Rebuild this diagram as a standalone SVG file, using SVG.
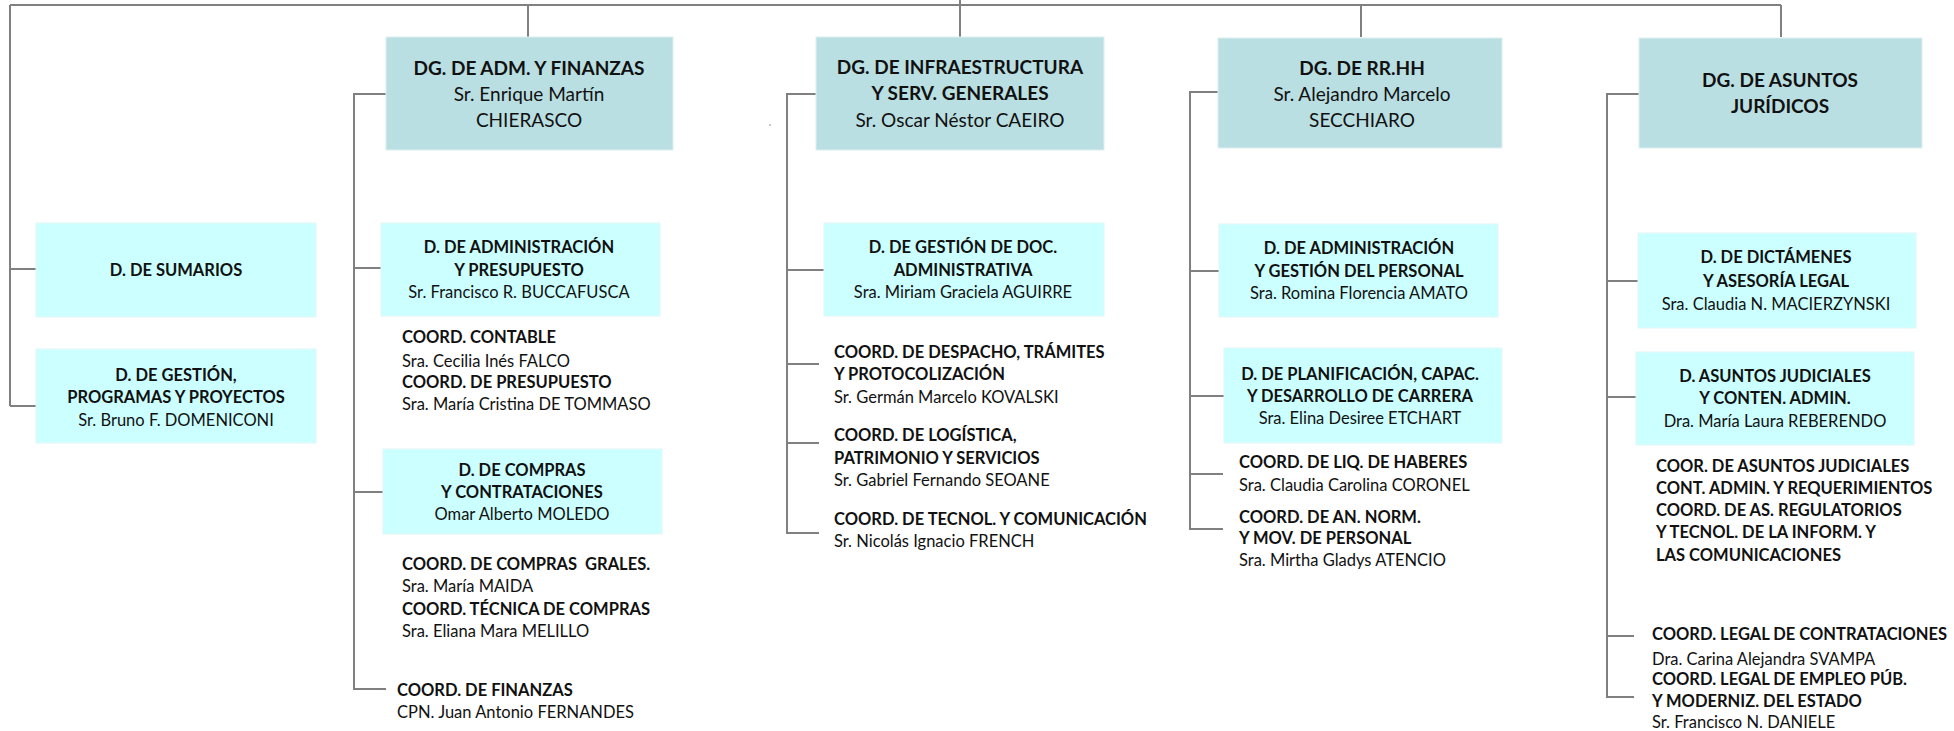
<svg xmlns="http://www.w3.org/2000/svg" width="1954" height="731" viewBox="0 0 1954 731">
<style>
.dg{fill:#BADFE2;stroke:#DDEFF0;stroke-width:1}
.d{fill:#CCFFFF;stroke:#E2F6F6;stroke-width:1}
.ln{stroke:#808080;stroke-width:2;fill:none}
text{font-family:Lato,"Liberation Sans",sans-serif;fill:#111}
.t{font-size:19px}
.s{font-size:16.5px}
.b{font-weight:bold}
.c{text-anchor:middle}
</style>
<rect width="1954" height="731" fill="#fff"/>
<g id="connectors">
<path class="ln" d="M10,5 H1781 M960,0 V37 M528,5 V37 M1361,5 V37 M1781,5 V37 M10,5 V406 M10,269 H38 M10,406 H38"/>
<path class="ln" d="M386,94 H354 V689 H386 M354,268 H381 M354,492 H383"/>
<path class="ln" d="M816,94 H787 V533 H819 M787,270 H824 M787,364 H819 M787,443 H819"/>
<path class="ln" d="M1218,92 H1190 V529 H1223 M1190,271 H1219 M1190,396 H1224 M1190,474 H1223"/>
<path class="ln" d="M1639,94 H1607 V697 H1634 M1607,281 H1638 M1607,397 H1636 M1607,636 H1634"/>
</g>
<rect x="769" y="124" width="2" height="2" fill="#c8c8c8"/>
<g id="dg-adm">
<rect class="dg" x="386" y="37" width="287" height="113"/>
<text class="t c" x="529"><tspan class="b" x="529" y="75">DG. DE ADM. Y FINANZAS</tspan><tspan x="529" y="101">Sr. Enrique Martín</tspan><tspan x="529" y="127">CHIERASCO</tspan></text>
</g>
<g id="dg-infra">
<rect class="dg" x="816" y="37" width="288" height="113"/>
<text class="t c" x="960"><tspan class="b" x="960" y="74">DG. DE INFRAESTRUCTURA</tspan><tspan class="b" x="960" y="100">Y SERV. GENERALES</tspan><tspan x="960" y="127">Sr. Oscar Néstor CAEIRO</tspan></text>
</g>
<g id="dg-rrhh">
<rect class="dg" x="1218" y="38" width="284" height="110"/>
<text class="t c" x="1362"><tspan class="b" x="1362" y="75">DG. DE RR.HH</tspan><tspan x="1362" y="101">Sr. Alejandro Marcelo</tspan><tspan x="1362" y="127">SECCHIARO</tspan></text>
</g>
<g id="dg-aj">
<rect class="dg" x="1639" y="38" width="283" height="110"/>
<text class="t c b" x="1780"><tspan x="1780" y="87">DG. DE ASUNTOS</tspan><tspan x="1780" y="113">JURÍDICOS</tspan></text>
</g>
<g id="d-sumarios">
<rect class="d" x="36" y="223" width="280" height="94"/>
<text class="s c b" x="176" y="276">D. DE SUMARIOS</text>
</g>
<g id="d-gestion">
<rect class="d" x="36" y="349" width="280" height="94"/>
<text class="s c" x="176"><tspan class="b" x="176" y="381">D. DE GESTIÓN,</tspan><tspan class="b" x="176" y="403">PROGRAMAS Y PROYECTOS</tspan><tspan x="176" y="426">Sr. Bruno F. DOMENICONI</tspan></text>
</g>
<g id="d-adm-presupuesto">
<rect class="d" x="381" y="223" width="279" height="93"/>
<text class="s c" x="519"><tspan class="b" x="519" y="253">D. DE ADMINISTRACIÓN</tspan><tspan class="b" x="519" y="276">Y PRESUPUESTO</tspan><tspan x="519" y="298">Sr. Francisco R. BUCCAFUSCA</tspan></text>
</g>
<g id="coord-adm">
<text class="s" x="402"><tspan class="b" x="402" y="343">COORD. CONTABLE</tspan><tspan x="402" y="367">Sra. Cecilia Inés FALCO</tspan><tspan class="b" x="402" y="388">COORD. DE PRESUPUESTO</tspan><tspan x="402" y="410">Sra. María Cristina DE TOMMASO</tspan></text>
</g>
<g id="d-compras">
<rect class="d" x="383" y="449" width="279" height="85"/>
<text class="s c" x="522"><tspan class="b" x="522" y="476">D. DE COMPRAS</tspan><tspan class="b" x="522" y="498">Y CONTRATACIONES</tspan><tspan x="522" y="520">Omar Alberto MOLEDO</tspan></text>
</g>
<g id="coord-compras">
<text class="s" x="402" xml:space="preserve"><tspan class="b" x="402" y="570">COORD. DE COMPRAS  GRALES.</tspan><tspan x="402" y="592">Sra. María MAIDA</tspan><tspan class="b" x="402" y="615">COORD. TÉCNICA DE COMPRAS</tspan><tspan x="402" y="637">Sra. Eliana Mara MELILLO</tspan></text>
</g>
<g id="coord-finanzas">
<text class="s" x="397"><tspan class="b" x="397" y="696">COORD. DE FINANZAS</tspan><tspan x="397" y="718">CPN. Juan Antonio FERNANDES</tspan></text>
</g>
<g id="d-gestion-doc">
<rect class="d" x="824" y="223" width="280" height="93"/>
<text class="s c" x="963"><tspan class="b" x="963" y="253">D. DE GESTIÓN DE DOC.</tspan><tspan class="b" x="963" y="276">ADMINISTRATIVA</tspan><tspan x="963" y="298">Sra. Miriam Graciela AGUIRRE</tspan></text>
</g>
<g id="coord-despacho">
<text class="s" x="834"><tspan class="b" x="834" y="358">COORD. DE DESPACHO, TRÁMITES</tspan><tspan class="b" x="834" y="380">Y PROTOCOLIZACIÓN</tspan><tspan x="834" y="403">Sr. Germán Marcelo KOVALSKI</tspan></text>
</g>
<g id="coord-logistica">
<text class="s" x="834"><tspan class="b" x="834" y="441">COORD. DE LOGÍSTICA,</tspan><tspan class="b" x="834" y="464">PATRIMONIO Y SERVICIOS</tspan><tspan x="834" y="486">Sr. Gabriel Fernando SEOANE</tspan></text>
</g>
<g id="coord-tecnol">
<text class="s" x="834"><tspan class="b" x="834" y="525">COORD. DE TECNOL. Y COMUNICACIÓN</tspan><tspan x="834" y="547">Sr. Nicolás Ignacio FRENCH</tspan></text>
</g>
<g id="d-adm-personal">
<rect class="d" x="1219" y="224" width="279" height="93"/>
<text class="s c" x="1359"><tspan class="b" x="1359" y="254">D. DE ADMINISTRACIÓN</tspan><tspan class="b" x="1359" y="277">Y GESTIÓN DEL PERSONAL</tspan><tspan x="1359" y="299">Sra. Romina Florencia AMATO</tspan></text>
</g>
<g id="d-planificacion">
<rect class="d" x="1224" y="348" width="278" height="95"/>
<text class="s c" x="1360"><tspan class="b" x="1360" y="380">D. DE PLANIFICACIÓN, CAPAC.</tspan><tspan class="b" x="1360" y="402">Y DESARROLLO DE CARRERA</tspan><tspan x="1360" y="424">Sra. Elina Desiree ETCHART</tspan></text>
</g>
<g id="coord-liq">
<text class="s" x="1239"><tspan class="b" x="1239" y="468">COORD. DE LIQ. DE HABERES</tspan><tspan x="1239" y="491">Sra. Claudia Carolina CORONEL</tspan></text>
</g>
<g id="coord-an-norm">
<text class="s" x="1239"><tspan class="b" x="1239" y="523">COORD. DE AN. NORM.</tspan><tspan class="b" x="1239" y="544">Y MOV. DE PERSONAL</tspan><tspan x="1239" y="566">Sra. Mirtha Gladys ATENCIO</tspan></text>
</g>
<g id="d-dictamenes">
<rect class="d" x="1638" y="233" width="278" height="95"/>
<text class="s c" x="1776"><tspan class="b" x="1776" y="263">D. DE DICTÁMENES</tspan><tspan class="b" x="1776" y="287">Y ASESORÍA LEGAL</tspan><tspan x="1776" y="310">Sra. Claudia N. MACIERZYNSKI</tspan></text>
</g>
<g id="d-asuntos-judiciales">
<rect class="d" x="1636" y="352" width="278" height="93"/>
<text class="s c" x="1775"><tspan class="b" x="1775" y="382">D. ASUNTOS JUDICIALES</tspan><tspan class="b" x="1775" y="404">Y CONTEN. ADMIN.</tspan><tspan x="1775" y="427">Dra. María Laura REBERENDO</tspan></text>
</g>
<g id="coord-aj">
<text class="s b" x="1656"><tspan x="1656" y="472">COOR. DE ASUNTOS JUDICIALES</tspan><tspan x="1656" y="494">CONT. ADMIN. Y REQUERIMIENTOS</tspan><tspan x="1656" y="516">COORD. DE AS. REGULATORIOS</tspan><tspan x="1656" y="538">Y TECNOL. DE LA INFORM. Y</tspan><tspan x="1656" y="561">LAS COMUNICACIONES</tspan></text>
</g>
<g id="coord-legal-contrataciones">
<text class="s" x="1652"><tspan class="b" x="1652" y="640">COORD. LEGAL DE CONTRATACIONES</tspan><tspan x="1652" y="665">Dra. Carina Alejandra SVAMPA</tspan></text>
</g>
<g id="coord-legal-empleo">
<text class="s" x="1652"><tspan class="b" x="1652" y="685">COORD. LEGAL DE EMPLEO PÚB.</tspan><tspan class="b" x="1652" y="707">Y MODERNIZ. DEL ESTADO</tspan><tspan x="1652" y="728">Sr. Francisco N. DANIELE</tspan></text>
</g>
</svg>
